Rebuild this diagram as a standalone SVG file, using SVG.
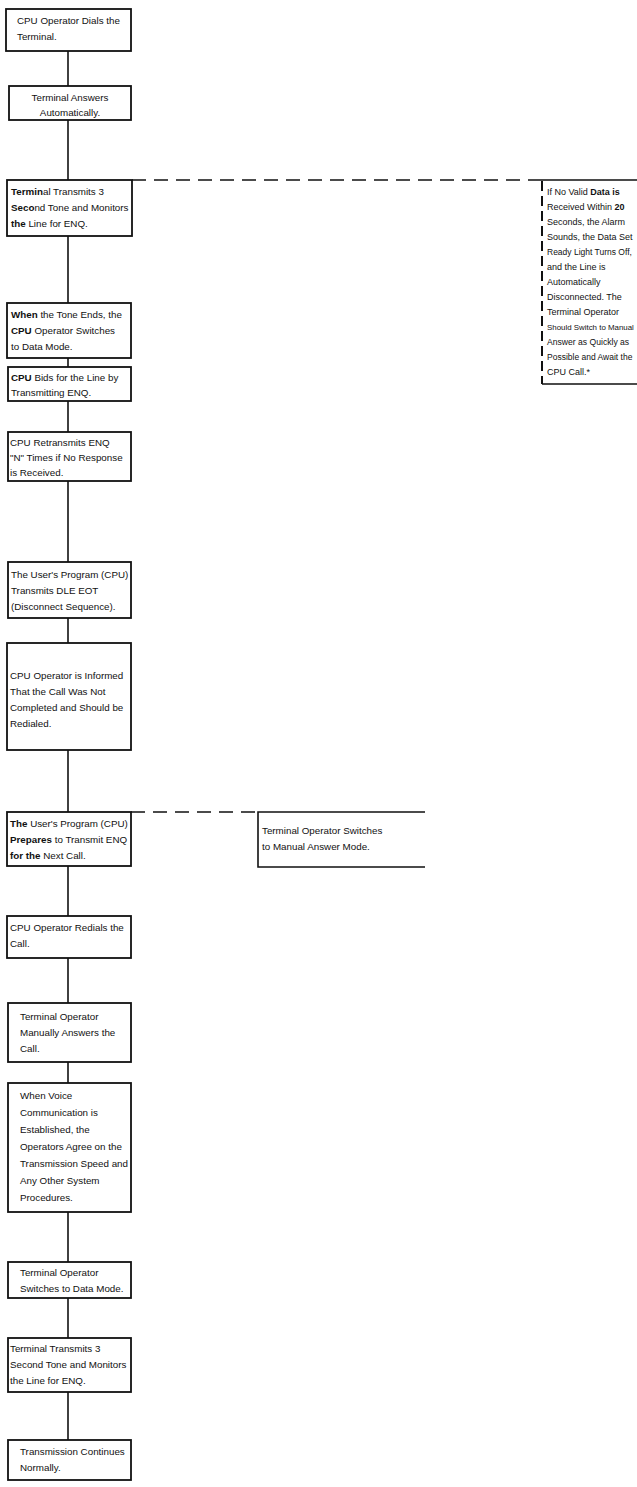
<svg xmlns="http://www.w3.org/2000/svg" width="637" height="1487" viewBox="0 0 637 1487">
<style>
.b{fill:#fff;stroke:#111;stroke-width:1.8}
.t{font-family:"Liberation Sans",Arial,sans-serif;font-size:9.8px;fill:#111}
.n{font-family:"Liberation Sans",Arial,sans-serif;font-size:9px;fill:#111}
.k{font-weight:bold}
.c{stroke:#111;stroke-width:1.6;fill:none}
.d{stroke:#111;stroke-width:1.4;fill:none;stroke-dasharray:14 8}
.o{stroke:#111;stroke-width:1.6;fill:none}
.br{stroke:#111;stroke-width:2;fill:none;stroke-dasharray:10 5}
</style>
<g id="connectors">
<line class="c" x1="68" y1="51" x2="68" y2="86"/>
<line class="c" x1="68" y1="120" x2="68" y2="180"/>
<line class="c" x1="68" y1="236" x2="68" y2="303"/>
<line class="c" x1="68" y1="358" x2="68" y2="367"/>
<line class="c" x1="68" y1="401" x2="68" y2="432"/>
<line class="c" x1="68" y1="481" x2="68" y2="562"/>
<line class="c" x1="68" y1="618" x2="68" y2="643"/>
<line class="c" x1="68" y1="750" x2="68" y2="812"/>
<line class="c" x1="68" y1="866" x2="68" y2="916"/>
<line class="c" x1="68" y1="958" x2="68" y2="1003"/>
<line class="c" x1="68" y1="1062" x2="68" y2="1083"/>
<line class="c" x1="68" y1="1212" x2="68" y2="1262"/>
<line class="c" x1="68" y1="1298" x2="68" y2="1338"/>
<line class="c" x1="68" y1="1392" x2="68" y2="1440"/>
<line class="d" x1="132" y1="180" x2="540" y2="180"/>
<line class="d" x1="131" y1="812" x2="258" y2="812"/>
</g>
<g id="n1"><rect class="b" x="6" y="9" width="125" height="42"/>
<text class="t" x="17" y="24">CPU Operator Dials the</text><text class="t" x="17" y="40">Terminal.</text></g>
<g id="n2"><rect class="b" x="9" y="86" width="122" height="34"/>
<text class="t" x="70" y="101" text-anchor="middle">Terminal Answers</text><text class="t" x="70" y="116" text-anchor="middle">Automatically.</text></g>
<g id="n3"><rect class="b" x="7" y="180" width="125" height="56"/>
<text class="t" x="11" y="195"><tspan class="k">Termin</tspan>al Transmits 3</text><text class="t" x="11" y="211"><tspan class="k">Seco</tspan>nd Tone and Monitors</text><text class="t" x="11" y="227"><tspan class="k">the</tspan> Line for ENQ.</text></g>
<g id="n4"><rect class="b" x="7" y="303" width="124" height="55"/>
<text class="t" x="11" y="318"><tspan class="k">When</tspan> the Tone Ends, the</text><text class="t" x="11" y="334"><tspan class="k">CPU</tspan> Operator Switches</text><text class="t" x="11" y="350">to Data Mode.</text></g>
<g id="n5"><rect class="b" x="8" y="367" width="123" height="34"/>
<text class="t" x="11" y="381"><tspan class="k">CPU</tspan> Bids for the Line by</text><text class="t" x="11" y="396">Transmitting ENQ.</text></g>
<g id="n6"><rect class="b" x="8" y="432" width="123" height="49"/>
<text class="t" x="10" y="446">CPU Retransmits ENQ</text><text class="t" x="10" y="461">"N" Times if No Response</text><text class="t" x="10" y="476">is Received.</text></g>
<g id="n7"><rect class="b" x="8" y="562" width="123" height="56"/>
<text class="t" x="11" y="578">The User's Program (CPU)</text><text class="t" x="11" y="594">Transmits DLE EOT</text><text class="t" x="11" y="610">(Disconnect Sequence).</text></g>
<g id="n8"><rect class="b" x="7" y="643" width="124" height="107"/>
<text class="t" x="10" y="679">CPU Operator is Informed</text><text class="t" x="10" y="695">That the Call Was Not</text><text class="t" x="10" y="711">Completed and Should be</text><text class="t" x="10" y="727">Redialed.</text></g>
<g id="n9"><rect class="b" x="7" y="812" width="124" height="54"/>
<text class="t" x="10" y="827"><tspan class="k">The</tspan> User's Program (CPU)</text><text class="t" x="10" y="843"><tspan class="k">Prepares</tspan> to Transmit ENQ</text><text class="t" x="10" y="859"><tspan class="k">for the</tspan> Next Call.</text></g>
<g id="n10"><path class="o" d="M425 812H258V867H425"/>
<text class="t" x="262" y="834">Terminal Operator Switches</text><text class="t" x="262" y="850">to Manual Answer Mode.</text></g>
<g id="n11"><rect class="b" x="7" y="916" width="124" height="42"/>
<text class="t" x="10" y="931">CPU Operator Redials the</text><text class="t" x="10" y="947">Call.</text></g>
<g id="n12"><rect class="b" x="8" y="1003" width="123" height="59"/>
<text class="t" x="20" y="1020">Terminal Operator</text><text class="t" x="20" y="1036">Manually Answers the</text><text class="t" x="20" y="1052">Call.</text></g>
<g id="n13"><rect class="b" x="8" y="1083" width="123" height="129"/>
<text class="t" x="20" y="1099">When Voice</text><text class="t" x="20" y="1116">Communication is</text><text class="t" x="20" y="1133">Established, the</text><text class="t" x="20" y="1150">Operators Agree on the</text><text class="t" x="20" y="1167">Transmission Speed and</text><text class="t" x="20" y="1184">Any Other System</text><text class="t" x="20" y="1201">Procedures.</text></g>
<g id="n14"><rect class="b" x="8" y="1262" width="123" height="36"/>
<text class="t" x="20" y="1276">Terminal Operator</text><text class="t" x="20" y="1292">Switches to Data Mode.</text></g>
<g id="n15"><rect class="b" x="8" y="1338" width="123" height="54"/>
<text class="t" x="10" y="1352">Terminal Transmits 3</text><text class="t" x="10" y="1368">Second Tone and Monitors</text><text class="t" x="10" y="1384">the Line for ENQ.</text></g>
<g id="n16"><rect class="b" x="8" y="1440" width="123" height="40"/>
<text class="t" x="20" y="1455">Transmission Continues</text><text class="t" x="20" y="1471">Normally.</text></g>
<g id="note"><path class="o" d="M540 180H637M542 384H637"/><line class="br" x1="542" y1="181" x2="542" y2="384"/>
<text class="n" x="547" y="195">If No Valid <tspan class="k">Data is</tspan></text>
<text class="n" x="547" y="210">Received Within <tspan class="k">20</tspan></text>
<text class="n" x="547" y="225">Seconds, the Alarm</text>
<text class="n" x="547" y="240">Sounds, the Data Set</text>
<text class="n" x="547" y="255" style="font-size:8.5px">Ready Light Turns Off,</text>
<text class="n" x="547" y="270">and the Line is</text>
<text class="n" x="547" y="285">Automatically</text>
<text class="n" x="547" y="300">Disconnected.  The</text>
<text class="n" x="547" y="315">Terminal Operator</text>
<text class="n" x="547" y="330" style="font-size:7.9px">Should Switch to Manual</text>
<text class="n" x="547" y="345" style="font-size:8.6px">Answer as Quickly as</text>
<text class="n" x="547" y="360" style="font-size:8.5px">Possible and Await the</text>
<text class="n" x="547" y="375">CPU Call.*</text></g>
</svg>
